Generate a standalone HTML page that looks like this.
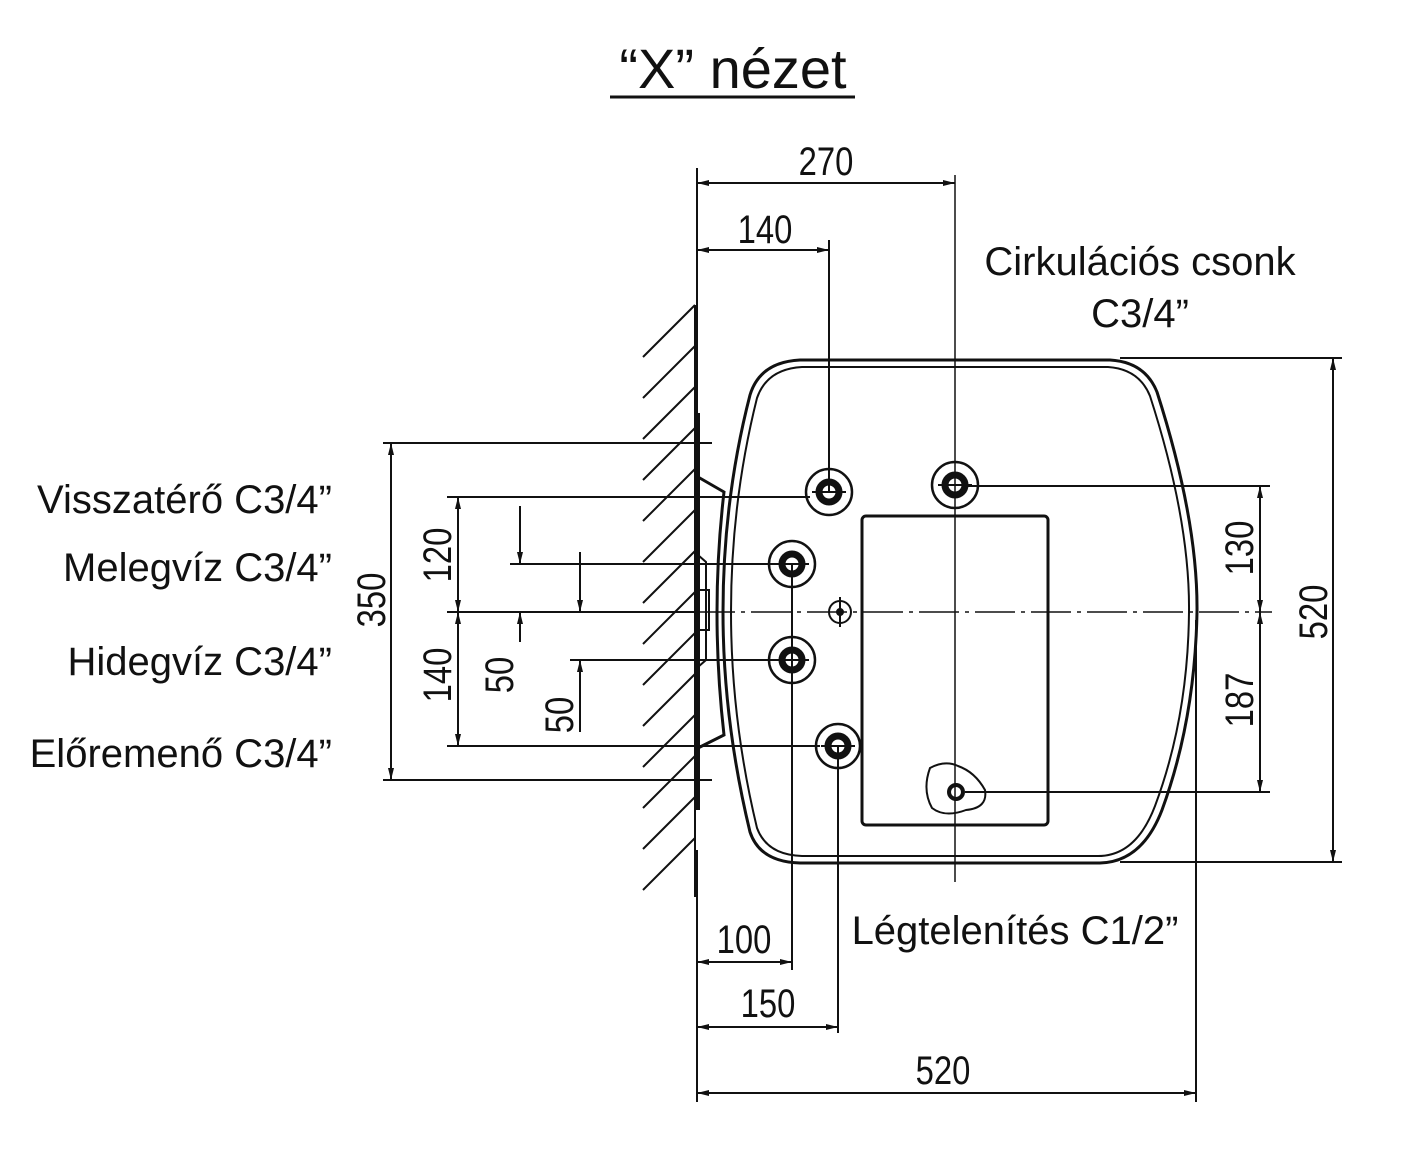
<!DOCTYPE html>
<html><head><meta charset="utf-8"><style>
html,body{margin:0;padding:0;background:#fff;}
svg{display:block;}
.l{font-family:"Liberation Sans",sans-serif;font-size:40px;fill:#111;}
.d{font-family:"Liberation Sans",sans-serif;font-size:40px;fill:#111;}
</style></head><body>
<svg width="1417" height="1156" viewBox="0 0 1417 1156" xmlns="http://www.w3.org/2000/svg">
<defs>
<marker id="a" viewBox="0 0 12 6" refX="12" refY="3" markerWidth="12" markerHeight="6" orient="auto-start-reverse" markerUnits="userSpaceOnUse"><path d="M0,0 L12,3 L0,6 Z" fill="#111"/></marker>
</defs>
<text x="733" y="88" text-anchor="middle" class="l" style="font-size:56px">“X” nézet</text>
<line x1="610" y1="97" x2="855" y2="97" stroke="#111" stroke-width="3"/>

<g stroke="#111" stroke-width="2" fill="none">
<line x1="695" y1="305" x2="695" y2="897"/>
<path d="M695,305 l-52,52 M695,346 l-52,52 M695,387 l-52,52 M695,428 l-52,52 M695,469 l-52,52 M695,510 l-52,52 M695,551 l-52,52 M695,592 l-52,52 M695,633 l-52,52 M695,674 l-52,52 M695,715 l-52,52 M695,756 l-52,52 M695,797 l-52,52 M695,838 l-52,52"/>
<line x1="698" y1="413" x2="698" y2="810" stroke-width="4"/>
<path d="M698,477 L724,492 Q710,612 724,735 L698,748" stroke-width="3"/>
<path d="M698,555 L706,562 L706,660 L698,667" />
<rect x="699" y="590" width="10" height="40"/>
<path d="M800,360 L1110,360 Q1145,362 1157,392 Q1198,520 1197,612 Q1195,720 1162,810 Q1142,862 1100,863 L800,863 Q760,862 750,832 Q723,720 723,612 Q723,500 750,395 Q760,362 800,360 Z" stroke-width="3"/>
<path d="M802,367 L1108,367 Q1139,369 1150,396 Q1190,520 1189,612 Q1188,718 1155,806 Q1136,856 1098,856 L802,856 Q767,855 757,828 Q731,720 731,612 Q731,502 757,398 Q767,369 802,367 Z" stroke-width="2"/>
<rect x="862" y="516" width="186" height="309" rx="4" stroke-width="3"/>
<line x1="695" y1="612" x2="1272" y2="612" stroke-width="1.5" stroke-dasharray="40,6,4,6"/>
<line x1="955" y1="175" x2="955" y2="882" stroke-width="1.5"/>
<line x1="829" y1="240" x2="829" y2="492"/>
<line x1="792" y1="564" x2="792" y2="970"/>
<line x1="838" y1="746" x2="838" y2="1033"/>
<g>
<circle cx="829" cy="492" r="23" stroke-width="2.5"/><circle cx="829" cy="492" r="10" stroke-width="7"/>
<circle cx="955" cy="485" r="23" stroke-width="2.5"/><circle cx="955" cy="485" r="10" stroke-width="7"/>
<circle cx="792" cy="564" r="23" stroke-width="2.5"/><circle cx="792" cy="564" r="10" stroke-width="7"/>
<circle cx="792" cy="660" r="23" stroke-width="2.5"/><circle cx="792" cy="660" r="10" stroke-width="7"/>
<circle cx="838" cy="746" r="22" stroke-width="2.5"/><circle cx="838" cy="746" r="10" stroke-width="7"/>
<circle cx="840" cy="612" r="11"/><circle cx="840" cy="612" r="3" fill="#111"/>
<line x1="840" y1="597" x2="840" y2="627"/>
<path d="M930,768 Q945,760 958,766 Q975,772 985,790 Q988,808 966,810 Q945,818 932,808 Q922,790 930,768 Z"/>
<circle cx="956" cy="792" r="7" stroke-width="4"/>
<line x1="812" y1="492" x2="846" y2="492"/><line x1="938" y1="485" x2="972" y2="485"/>
<line x1="775" y1="564" x2="809" y2="564"/><line x1="775" y1="660" x2="809" y2="660"/>
<line x1="821" y1="746" x2="855" y2="746"/>
</g>
<line x1="697" y1="168" x2="697" y2="420"/>
<line x1="697" y1="850" x2="697" y2="1102"/>
<line x1="1196" y1="620" x2="1196" y2="1102"/>
<line x1="1120" y1="358" x2="1342" y2="358"/>
<line x1="1120" y1="862" x2="1342" y2="862"/>
<line x1="965" y1="486" x2="1270" y2="486"/>
<line x1="965" y1="792" x2="1270" y2="792"/>
<line x1="383" y1="443" x2="712" y2="443"/>
<line x1="383" y1="780" x2="712" y2="780"/>
<line x1="447" y1="497" x2="810" y2="497"/>
<line x1="447" y1="746" x2="820" y2="746"/>
<line x1="510" y1="564" x2="780" y2="564"/>
<line x1="570" y1="660" x2="780" y2="660"/>
<line x1="447" y1="612" x2="695" y2="612"/>
</g>
<g stroke="#111" stroke-width="2" fill="none">
<line x1="697" y1="183" x2="955" y2="183" marker-start="url(#a)" marker-end="url(#a)"/>
<line x1="697" y1="250" x2="829" y2="250" marker-start="url(#a)" marker-end="url(#a)"/>
<line x1="1333" y1="358" x2="1333" y2="862" marker-start="url(#a)" marker-end="url(#a)"/>
<line x1="1260" y1="486" x2="1260" y2="612" marker-start="url(#a)" marker-end="url(#a)"/>
<line x1="1260" y1="612" x2="1260" y2="792" marker-start="url(#a)" marker-end="url(#a)"/>
<line x1="391" y1="443" x2="391" y2="780" marker-start="url(#a)" marker-end="url(#a)"/>
<line x1="458" y1="497" x2="458" y2="612" marker-start="url(#a)" marker-end="url(#a)"/>
<line x1="458" y1="612" x2="458" y2="746" marker-start="url(#a)" marker-end="url(#a)"/>
<line x1="520" y1="506" x2="520" y2="564" marker-end="url(#a)"/>
<line x1="520" y1="642" x2="520" y2="612" marker-end="url(#a)"/>
<line x1="580" y1="552" x2="580" y2="612" marker-end="url(#a)"/>
<line x1="580" y1="732" x2="580" y2="660" marker-end="url(#a)"/>
<line x1="697" y1="962" x2="792" y2="962" marker-start="url(#a)" marker-end="url(#a)"/>
<line x1="697" y1="1027" x2="838" y2="1027" marker-start="url(#a)" marker-end="url(#a)"/>
<line x1="697" y1="1093" x2="1196" y2="1093" marker-start="url(#a)" marker-end="url(#a)"/>
</g>
<g class="d" text-anchor="middle">
<text transform="translate(826 175) scale(0.82 1)">270</text>
<text transform="translate(765 243) scale(0.82 1)">140</text>
<text transform="translate(744 953) scale(0.82 1)">100</text>
<text transform="translate(768 1017) scale(0.82 1)">150</text>
<text transform="translate(943 1084) scale(0.82 1)">520</text>
<text transform="translate(1327 612) rotate(-90) scale(0.82 1)">520</text>
<text transform="translate(1253 548) rotate(-90) scale(0.82 1)">130</text>
<text transform="translate(1253 700) rotate(-90) scale(0.82 1)">187</text>
<text transform="translate(385 600) rotate(-90) scale(0.82 1)">350</text>
<text transform="translate(451 555) rotate(-90) scale(0.82 1)">120</text>
<text transform="translate(451 675) rotate(-90) scale(0.82 1)">140</text>
<text transform="translate(513 675) rotate(-90) scale(0.82 1)">50</text>
<text transform="translate(573 715) rotate(-90) scale(0.82 1)">50</text>
</g>
<g class="l">
<text x="1140" y="275" text-anchor="middle">Cirkulációs csonk</text>
<text x="1140" y="327" text-anchor="middle">C3/4”</text>
<text x="332" y="513" text-anchor="end">Visszatérő C3/4”</text>
<text x="332" y="581" text-anchor="end">Melegvíz C3/4”</text>
<text x="332" y="675" text-anchor="end">Hidegvíz C3/4”</text>
<text x="332" y="767" text-anchor="end">Előremenő C3/4”</text>
<text x="1015" y="944" text-anchor="middle">Légtelenítés C1/2”</text>
</g>
</svg>
</body></html>
